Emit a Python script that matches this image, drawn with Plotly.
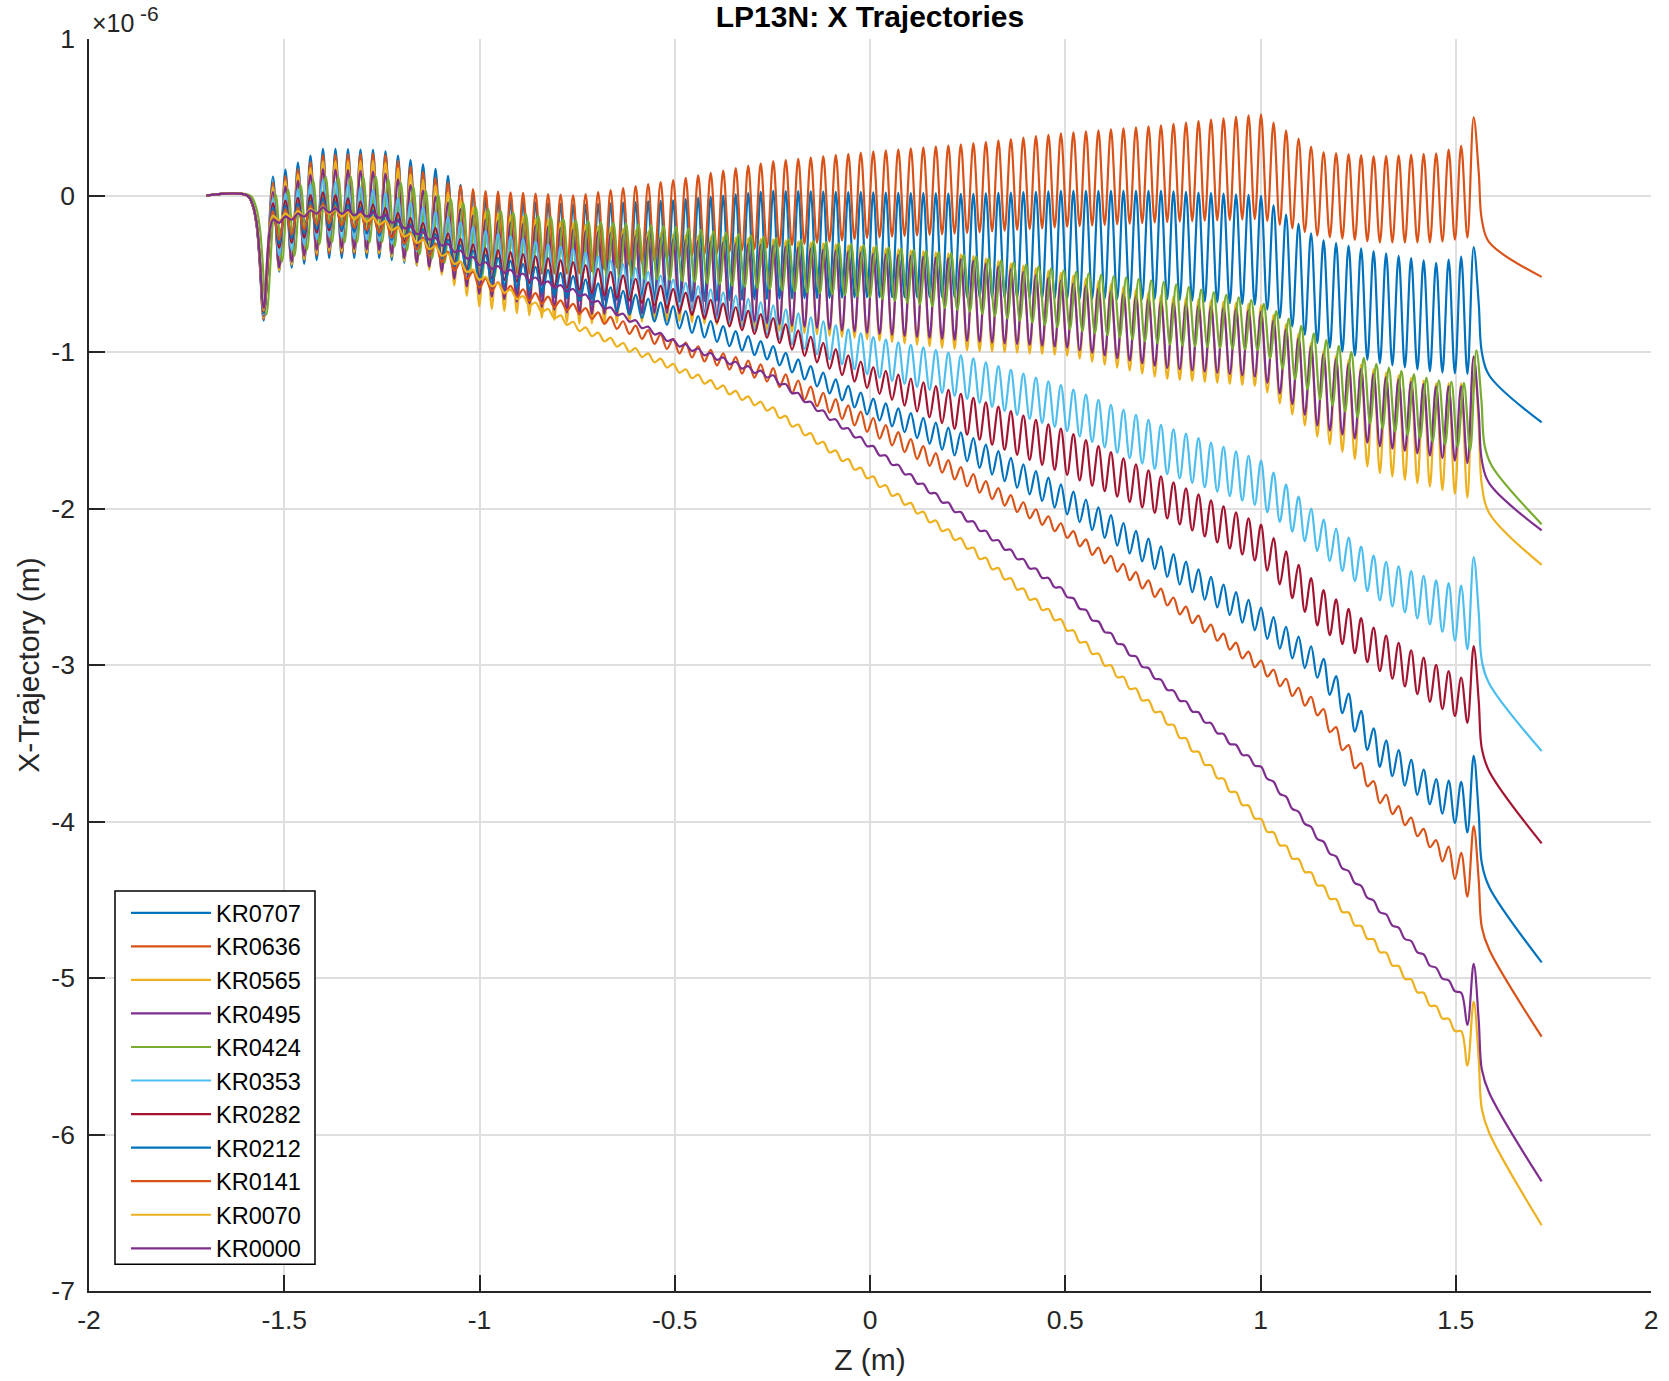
import numpy as np
import plotly.graph_objects as go

# ---------------- data (values in units of 1e-6 m) ----------------
SERIES = ["KR0707", "KR0636", "KR0565", "KR0495", "KR0424", "KR0353",
          "KR0282", "KR0212", "KR0141", "KR0070", "KR0000"]
COLORS = ["#0072BD", "#D95319", "#EDB120", "#7E2F8E", "#77AC30", "#4DBEEE",
          "#A2142F", "#0072BD", "#D95319", "#EDB120", "#7E2F8E"]

Z_NODES = [-1.53, -1.40, -1.25, -1.10, -1.00, -0.75, -0.50, -0.25, 0.00,
           0.25, 0.50, 0.75, 1.00, 1.15, 1.30, 1.45, 1.53]

KR0707_PEAK   = [0.12, 0.30, 0.29, 0.16, -0.02, -0.06, -0.03, 0.03, 0.02, 0.01, 0.03, 0.03, 0.00, -0.28, -0.36, -0.43, -0.38]
KR0707_TROUGH = [-0.50, -0.40, -0.40, -0.48, -0.62, -0.66, -0.68, -0.66, -0.65, -0.65, -0.66, -0.66, -0.70, -0.95, -1.07, -1.13, -1.14]

KR0636_PEAK   = [0.08, 0.26, 0.27, 0.10, 0.03, 0.00, 0.10, 0.22, 0.28, 0.33, 0.40, 0.45, 0.52, 0.28, 0.25, 0.27, 0.33]
KR0636_TROUGH = [-0.48, -0.37, -0.37, -0.45, -0.50, -0.50, -0.40, -0.33, -0.27, -0.24, -0.20, -0.17, -0.15, -0.26, -0.30, -0.30, -0.27]

KR0565_PEAK   = [0.05, 0.22, 0.22, 0.05, -0.10, -0.18, -0.25, -0.28, -0.33, -0.38, -0.50, -0.64, -0.70, -0.98, -1.12, -1.20, -1.20]
KR0565_TROUGH = [-0.50, -0.35, -0.37, -0.50, -0.71, -0.82, -0.80, -0.86, -0.92, -0.99, -1.02, -1.17, -1.22, -1.55, -1.77, -1.87, -1.93]

KR0495_PEAK   = [0.02, 0.17, 0.15, -0.02, -0.15, -0.22, -0.28, -0.32, -0.37, -0.41, -0.55, -0.68, -0.74, -1.00, -1.15, -1.22, -1.22]
KR0495_TROUGH = [-0.48, -0.33, -0.35, -0.48, -0.63, -0.76, -0.75, -0.82, -0.88, -0.93, -0.97, -1.10, -1.16, -1.48, -1.60, -1.67, -1.71]

KR0424_PEAK   = [0.00, 0.12, 0.12, 0.00, -0.08, -0.16, -0.20, -0.27, -0.32, -0.38, -0.48, -0.55, -0.68, -0.90, -1.08, -1.18, -1.20]
KR0424_TROUGH = [-0.45, -0.30, -0.30, -0.42, -0.52, -0.52, -0.54, -0.60, -0.65, -0.74, -0.85, -0.95, -0.99, -1.30, -1.48, -1.58, -1.62]

KR0353_PEAK   = [-0.02, 0.10, 0.02, -0.12, -0.22, -0.35, -0.54, -0.70, -0.90, -1.03, -1.22, -1.47, -1.69, -2.05, -2.32, -2.46, -2.50]
KR0353_TROUGH = [-0.40, -0.26, -0.29, -0.40, -0.52, -0.60, -0.70, -0.90, -1.15, -1.30, -1.50, -1.77, -1.99, -2.28, -2.58, -2.76, -2.90]

KR0282_PEAK   = [-0.05, 0.02, -0.07, -0.22, -0.33, -0.43, -0.60, -0.78, -1.09, -1.28, -1.50, -1.80, -2.10, -2.50, -2.78, -3.00, -3.10]
KR0282_TROUGH = [-0.35, -0.22, -0.24, -0.38, -0.52, -0.60, -0.73, -0.92, -1.24, -1.53, -1.78, -2.05, -2.35, -2.76, -3.03, -3.26, -3.37]

KR0212_PEAK   = [-0.08, -0.02, -0.11, -0.26, -0.37, -0.52, -0.71, -0.96, -1.29, -1.53, -1.86, -2.25, -2.63, -2.92, -3.44, -3.73, -3.75]
KR0212_TROUGH = [-0.32, -0.20, -0.26, -0.40, -0.54, -0.67, -0.84, -1.06, -1.41, -1.70, -2.03, -2.42, -2.80, -3.09, -3.64, -3.92, -4.07]

KR0141_PEAK   = [-0.10, -0.05, -0.15, -0.32, -0.52, -0.70, -0.92, -1.10, -1.41, -1.76, -2.11, -2.52, -2.97, -3.24, -3.78, -4.12, -4.22]
KR0141_TROUGH = [-0.30, -0.17, -0.24, -0.42, -0.59, -0.75, -1.00, -1.20, -1.52, -1.86, -2.18, -2.60, -3.04, -3.33, -3.87, -4.20, -4.48]

KR0070_PEAK   = [-0.13, -0.07, -0.15, -0.34, -0.50, -0.82, -1.08, -1.35, -1.78, -2.22, -2.73, -3.31, -3.98, -4.38, -4.78, -5.18, -5.38]
KR0070_TROUGH = [-0.17, -0.11, -0.19, -0.38, -0.54, -0.86, -1.12, -1.39, -1.82, -2.26, -2.77, -3.35, -4.02, -4.42, -4.82, -5.22, -5.42]

KR0000_PEAK   = [-0.155, -0.075, -0.115, -0.285, -0.415, -0.605, -0.925, -1.145, -1.585, -2.055, -2.525, -3.105, -3.645, -4.095, -4.535, -4.935, -5.135]
KR0000_TROUGH = [-0.185, -0.105, -0.145, -0.315, -0.445, -0.635, -0.955, -1.175, -1.615, -2.085, -2.555, -3.135, -3.675, -4.125, -4.565, -4.965, -5.165]

PEAKS = [KR0707_PEAK, KR0636_PEAK, KR0565_PEAK, KR0495_PEAK, KR0424_PEAK, KR0353_PEAK,
         KR0282_PEAK, KR0212_PEAK, KR0141_PEAK, KR0070_PEAK, KR0000_PEAK]
TROUGHS = [KR0707_TROUGH, KR0636_TROUGH, KR0565_TROUGH, KR0495_TROUGH, KR0424_TROUGH, KR0353_TROUGH,
           KR0282_TROUGH, KR0212_TROUGH, KR0141_TROUGH, KR0070_TROUGH, KR0000_TROUGH]

# entrance kick depth, final trough / peak, post-exit knee and end value per series
ENTRY_DIP   = [-0.80, -0.79, -0.78, -0.77, -0.76, -0.76, -0.75, -0.75, -0.74, -0.73, -0.72]
LAST_TROUGH = [-1.14, -0.27, -1.93, -1.71, -1.63, -2.90, -3.37, -4.07, -4.48, -5.56, -5.30]
LAST_PEAK   = [-0.33, 0.50, -1.03, -1.03, -0.99, -2.31, -2.88, -3.58, -4.03, -5.15, -4.91]
EXIT_KNEE   = [-1.15, -0.30, -2.03, -1.84, -1.73, -3.12, -3.68, -4.42, -4.82, -5.99, -5.735]
EXIT_END    = [-1.45, -0.52, -2.36, -2.14, -2.10, -3.55, -4.14, -4.90, -5.375, -6.58, -6.30]
PHASE_SHIFT = [0, 0, 0, 0, 0.007, 0, 0, 0, 0, 0, 0]

# undulator geometry (m)
Z_START = -1.70
FIRST_PEAK_Z = -1.529
PERIOD = 0.03203
N_PERIODS = 96
ENTRY_Z = [-1.595, -1.580, -1.570, -1.563, -1.5525]
ENTRY_FRAC = [0.0, 0.09, 0.26, 0.53, 1.0]
EXIT_DZ = [0.013, 0.021, 0.040]
EXIT_FRAC = [0.44, 0.82, 1.0]
Z_END = 1.72

X_TICKS = [-2, -1.5, -1, -0.5, 0, 0.5, 1, 1.5, 2]
X_TICK_TEXT = ["-2", "-1.5", "-1", "-0.5", "0", "0.5", "1", "1.5", "2"]
Y_TICKS = [1, 0, -1, -2, -3, -4, -5, -6, -7]
Y_TICK_TEXT = ["1", "0", "-1", "-2", "-3", "-4", "-5", "-6", "-7"]


def build(i):
    ph = PHASE_SHIFT[i]
    zs = [Z_START]
    ys = [0.0]
    for zf, fr in zip(ENTRY_Z, ENTRY_FRAC):
        zs.append(zf + ph)
        ys.append(ENTRY_DIP[i] * fr)
    for k in range(N_PERIODS + 1):
        zp = FIRST_PEAK_Z + k * PERIOD + ph
        if k == N_PERIODS:
            yp = LAST_PEAK[i]
        else:
            yp = float(np.interp(zp, Z_NODES, PEAKS[i]))
        zs.append(zp)
        ys.append(yp)
        if k < N_PERIODS:
            zt = zp + PERIOD / 2
            if k == N_PERIODS - 1:
                yt = LAST_TROUGH[i]
            else:
                yt = float(np.interp(zt, Z_NODES, TROUGHS[i]))
            zs.append(zt)
            ys.append(yt)
    zlast = zs[-1]
    for dz, fr in zip(EXIT_DZ, EXIT_FRAC):
        zs.append(zlast + dz)
        ys.append(LAST_PEAK[i] + fr * (EXIT_KNEE[i] - LAST_PEAK[i]))
    zs.append(Z_END)
    ys.append(EXIT_END[i])
    return zs, ys


fig = go.Figure()
for i, name in enumerate(SERIES):
    zs, ys = build(i)
    fig.add_trace(go.Scatter(
        x=zs, y=ys, mode="lines", name=name,
        line=dict(color=COLORS[i], width=2.2, shape="spline", smoothing=1.0),
    ))

FONT = "Liberation Sans, Arial, Helvetica, sans-serif"
AX = "#262626"
GRID = "#DFDFDF"

W, H = 1669, 1381
ML, MR, MT, MB = 89, 18, 39, 90
PW = W - ML - MR
PH = H - MT - MB


def px(fx):
    return (fx - ML) / PW


def py(fy):
    return (H - MB - fy) / PH


fig.update_layout(
    width=W, height=H,
    margin=dict(l=ML, r=MR, t=MT, b=MB, autoexpand=False),
    paper_bgcolor="white", plot_bgcolor="white",
    font=dict(family=FONT, size=26.5, color=AX),
    title=dict(text="<b>LP13N: X Trajectories</b>", x=0.5, xref="paper", xanchor="center",
               y=1 - 16 / H, yref="container", yanchor="middle",
               font=dict(family=FONT, size=30, color="black")),
    showlegend=True,
    legend=dict(x=px(126), y=py(1271), xanchor="left", yanchor="bottom",
                borderwidth=0, bgcolor="rgba(0,0,0,0)",
                font=dict(family=FONT, size=23.5, color="black"), itemwidth=80,
                tracegroupgap=0),
)
# legend frame
fig.add_shape(type="rect", xref="paper", yref="paper",
              x0=px(115), x1=px(315), y0=py(1264.3), y1=py(891),
              line=dict(color="black", width=1.5), fillcolor="white", layer="above")

fig.update_xaxes(
    range=[-2, 2], tickmode="array", tickvals=X_TICKS, ticktext=X_TICK_TEXT,
    showgrid=True, gridcolor=GRID, gridwidth=1.5, zeroline=False,
    showline=True, linecolor=AX, linewidth=1.5, mirror=False,
    ticks="inside", ticklen=16, tickwidth=1.5, tickcolor=AX,
    ticklabelstandoff=4, automargin=False,
    title=dict(text="Z (m)", font=dict(family=FONT, size=30, color=AX), standoff=15),
)
fig.update_yaxes(
    range=[-7, 1], tickmode="array", tickvals=Y_TICKS, ticktext=Y_TICK_TEXT,
    showgrid=True, gridcolor=GRID, gridwidth=1.5, zeroline=False,
    showline=True, linecolor=AX, linewidth=1.5, mirror=False,
    ticks="inside", ticklen=16, tickwidth=1.5, tickcolor=AX,
    ticklabelstandoff=7, automargin=False,
    title=dict(text="X-Trajectory (m)", font=dict(family=FONT, size=30, color=AX), standoff=3),
)
fig.add_annotation(
    text="×10", xref="paper", yref="paper", x=px(90), y=1.0,
    xanchor="left", yanchor="bottom", showarrow=False, yshift=0,
    font=dict(family=FONT, size=25, color=AX),
)
fig.add_annotation(
    text="-6", xref="paper", yref="paper", x=px(138), y=1.0,
    xanchor="left", yanchor="bottom", showarrow=False, yshift=12,
    font=dict(family=FONT, size=21, color=AX),
)

fig.write_html(
    "out.html",
    config={"displayModeBar": False},
    post_script="document.body.style.margin='0';document.body.style.overflow='hidden';",
)
